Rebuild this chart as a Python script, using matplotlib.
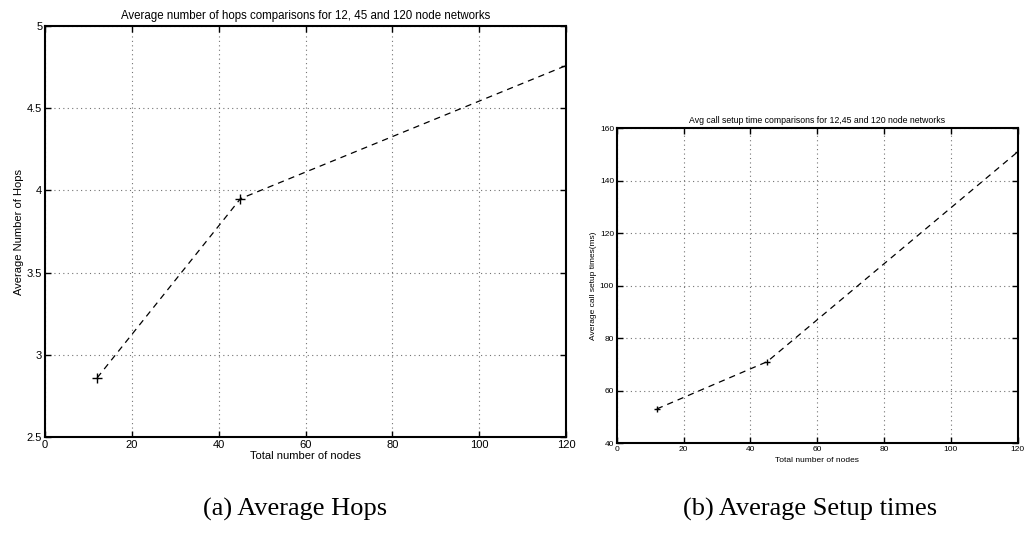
import matplotlib
matplotlib.use("Agg")
import matplotlib.pyplot as plt

# data
nodes = [12, 45, 120]
avg_hops = [2.86, 3.95, 4.76]
avg_setup_ms = [53, 71, 151]

plt.rcParams['font.family'] = ['Liberation Sans', 'DejaVu Sans']

fig = plt.figure(figsize=(10.28, 5.40), dpi=100)


def matlab_style(ax, fs):
    ax.grid(True, linestyle=(0, (1, 3)), color='0.45', linewidth=0.8)
    ax.tick_params(direction='in', top=True, right=True, labelsize=fs,
                   length=4, width=1.0, pad=2)
    for s in ax.spines.values():
        s.set_linewidth(1.5)


# (a) average hops
ax1 = fig.add_axes([0.0438, 0.1907, 0.507, 0.761])
ax1.plot(nodes, avg_hops, 'k--+', linewidth=0.9, markersize=7, dashes=(5, 4))
ax1.set_xlim(0, 120)
ax1.set_ylim(2.5, 5)
ax1.set_xticks([0, 20, 40, 60, 80, 100, 120])
ax1.set_yticks([2.5, 3, 3.5, 4, 4.5, 5])
ax1.set_yticklabels(['2.5', '3', '3.5', '4', '4.5', '5'])
ax1.set_xlabel("Total number of nodes", fontsize=8, labelpad=1)
ax1.set_ylabel("Average Number of Hops", fontsize=8, labelpad=2)
ax1.set_title("Average number of hops comparisons for 12, 45 and 120 node networks",
              fontsize=8.3, pad=5)
matlab_style(ax1, 8)

# (b) average setup times
ax2 = fig.add_axes([0.600, 0.1796, 0.390, 0.583])
ax2.plot(nodes, avg_setup_ms, 'k--+', linewidth=0.9, markersize=5, dashes=(5, 4))
ax2.set_xlim(0, 120)
ax2.set_ylim(40, 160)
ax2.set_xticks([0, 20, 40, 60, 80, 100, 120])
ax2.set_yticks([40, 60, 80, 100, 120, 140, 160])
ax2.set_xlabel("Total number of nodes", fontsize=6, labelpad=3)
ax2.set_ylabel("Average call setup times(ms)", fontsize=6, labelpad=2)
ax2.set_title("Avg call setup time comparisons for 12,45 and 120 node networks",
              fontsize=6.3, pad=4)
matlab_style(ax2, 6)

# sub-captions
fig.text(0.287, 0.045, "(a) Average Hops", ha='center', fontsize=19,
         family=['Liberation Serif', 'DejaVu Serif'])
fig.text(0.788, 0.045, "(b) Average Setup times", ha='center', fontsize=19,
         family=['Liberation Serif', 'DejaVu Serif'])

fig.savefig("out.png", dpi=100)
